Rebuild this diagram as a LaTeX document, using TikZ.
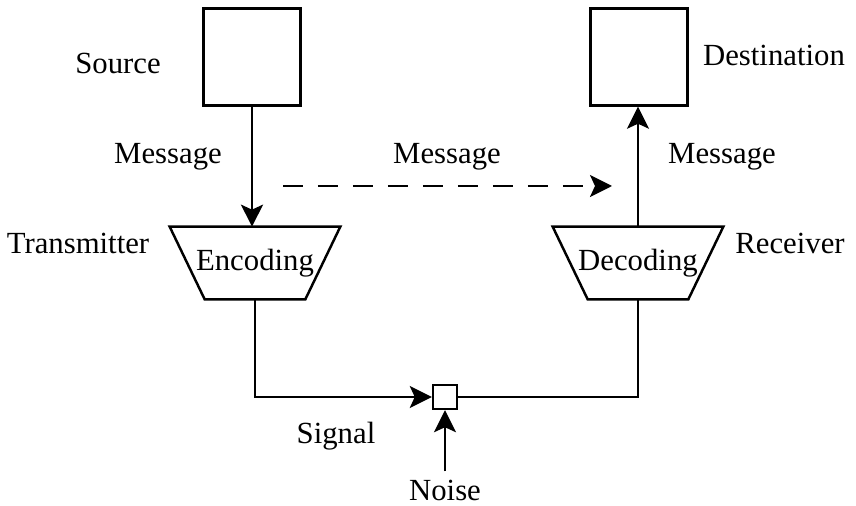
\documentclass[tikz,border=0pt]{standalone}
\usepackage{fontspec}
\setmainfont{Liberation Serif}
\usetikzlibrary{arrows.meta,shapes.geometric,positioning}

\begin{document}
\begin{tikzpicture}[x=0.02cm,y=-0.02cm,
		blk/.style={rectangle,draw=black,line width=1.4pt,inner sep=0mm,minimum size=1.94cm},
		coder/.style={inner sep=0mm,minimum width=3.4cm,minimum height=1.44cm,font=\fontsize{17.5}{20}\selectfont},
		mixer/.style={rectangle,draw=black,line width=1.4pt,inner sep=0mm,minimum size=0.48cm},
		txt/.style={inner sep=0mm,font=\fontsize{17.5}{20}\selectfont},
		wire/.style={line width=1.4pt},
		arr/.style={wire,-{Stealth[length=0.44cm,width=0.44cm,inset=0.1cm]}}]
	\useasboundingbox (0,0) rectangle (856,506);

	% boxes
	\node[blk] (source) at (252,57) {};
	\node[blk] (dest) at (639,57) {};
	\node[coder] (enc) at (255,263) {Encoding};
	\node[coder] (dec) at (638,263) {Decoding};
	\node[mixer] (mix) at (445,397) {};
	\foreach \n in {enc,dec}
		\draw[wire,line join=miter] (\n.north west) -- (\n.north east) -- ([xshift=-0.7cm]\n.south east)
			-- ([xshift=0.7cm]\n.south west) -- cycle;

	% labels
	\node[txt] (srclbl) at (118,63) {Source};
	\node[txt] (dstlbl) at (774,55) {Destination};
	\node[txt] (msgleft) at (168,157) {Message};
	\node[txt] (msgmid) at (447,157) {Message};
	\node[txt] (msgright) at (722,157) {Message};
	\node[txt] (trlbl) at (78,243) {Transmitter};
	\node[txt] (rclbl) at (790,243) {Receiver};
	\node[txt] (siglbl) at (336,436) {Signal};
	\node[txt] (noiselbl) at (445,490) {Noise};

	\coordinate (dashfrom) at (283,186);
	\coordinate (dashto) at (612,186);

	% connectors
	\draw[arr] (source.south) -- (source.south |- enc.north);
	\draw[arr] (dec.north) -- (dec.north |- dest.south);
	\draw[arr,dash pattern=on 0.4cm off 0.3cm] (dashfrom) -- (dashto);
	\draw[arr] (enc.south) |- (mix.west);
	\draw[wire] (mix.east) -| (dec.south);
	\draw[arr] (noiselbl.north) ++(0,-8) -- (mix.south);
\end{tikzpicture}
\end{document}
